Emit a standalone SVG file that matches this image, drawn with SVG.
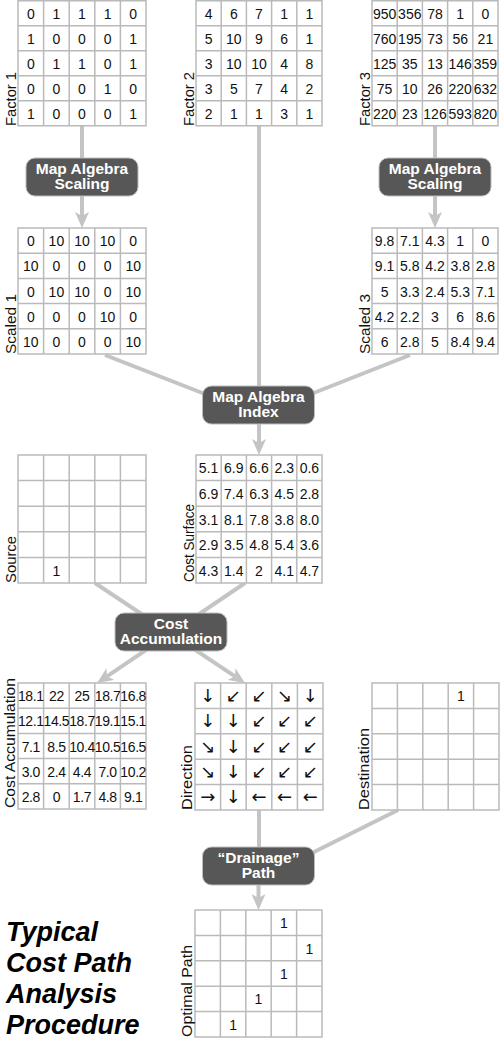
<svg xmlns="http://www.w3.org/2000/svg" width="500" height="1044" viewBox="0 0 500 1044">
<style>
.grid{fill:#fff;stroke:#bababa;stroke-width:1.5}
.c{font-family:"Liberation Sans",Arial,sans-serif;font-size:14px;fill:#111;text-anchor:middle}
.ar{font-family:"DejaVu Sans",sans-serif;font-size:18px;fill:#111;text-anchor:middle}
.lab{font-family:"Liberation Sans",Arial,sans-serif;font-size:15px;fill:#111}
.con{stroke:#c4c4c4;stroke-width:4;fill:none}
.box{fill:#575757;stroke:#bdbdbd;stroke-width:1}
.bt{font-family:"Liberation Sans",Arial,sans-serif;font-size:15.5px;font-weight:bold;fill:#fff;text-anchor:middle}
.title{font-family:"Liberation Sans",Arial,sans-serif;font-size:27px;font-weight:bold;font-style:italic;fill:#000}
</style>
<defs>
<marker id="ah" viewBox="0 0 16 14" refX="4" refY="7" markerWidth="16" markerHeight="14" markerUnits="userSpaceOnUse" orient="auto"><path d="M0,0 L16,7 L0,14 L4,7 z" fill="#c4c4c4"/></marker>
</defs>
<rect width="500" height="1044" fill="#fff"/>

<g id="connectors">
<line class="con" x1="82" y1="125" x2="82" y2="159"/>
<line class="con" x1="82" y1="196" x2="82" y2="216" marker-end="url(#ah)"/>
<line class="con" x1="435" y1="125" x2="435" y2="159"/>
<line class="con" x1="435" y1="196" x2="435" y2="216" marker-end="url(#ah)"/>
<line class="con" x1="259" y1="125" x2="259" y2="390"/>
<line class="con" x1="105" y1="355" x2="210" y2="396"/>
<line class="con" x1="410" y1="355" x2="306" y2="396"/>
<line class="con" x1="259" y1="423" x2="259" y2="443" marker-end="url(#ah)"/>
<line class="con" x1="95" y1="583" x2="235" y2="676.3" marker-end="url(#ah)"/>
<line class="con" x1="245" y1="583" x2="107" y2="676.3" marker-end="url(#ah)"/>
<line class="con" x1="259" y1="809" x2="259" y2="850"/>
<line class="con" x1="398" y1="810" x2="308" y2="855"/>
<line class="con" x1="258.5" y1="885" x2="258.5" y2="898" marker-end="url(#ah)"/>
</g>

<g id="factor1">
<path class="grid" d="M18 0.75H146V125.75H18Z M43.6 0.75V125.75 M69.2 0.75V125.75 M94.8 0.75V125.75 M120.4 0.75V125.75 M18 25.75H146 M18 50.75H146 M18 75.75H146 M18 100.75H146"/>
<text class="c" y="18.75"><tspan x="30.8">0</tspan><tspan x="56.4">1</tspan><tspan x="82">1</tspan><tspan x="107.6">1</tspan><tspan x="133.2">0</tspan></text>
<text class="c" y="43.75"><tspan x="30.8">1</tspan><tspan x="56.4">0</tspan><tspan x="82">0</tspan><tspan x="107.6">0</tspan><tspan x="133.2">1</tspan></text>
<text class="c" y="68.75"><tspan x="30.8">0</tspan><tspan x="56.4">1</tspan><tspan x="82">1</tspan><tspan x="107.6">0</tspan><tspan x="133.2">1</tspan></text>
<text class="c" y="93.75"><tspan x="30.8">0</tspan><tspan x="56.4">0</tspan><tspan x="82">0</tspan><tspan x="107.6">1</tspan><tspan x="133.2">0</tspan></text>
<text class="c" y="118.75"><tspan x="30.8">1</tspan><tspan x="56.4">0</tspan><tspan x="82">0</tspan><tspan x="107.6">0</tspan><tspan x="133.2">1</tspan></text>
<text class="lab" transform="translate(16,126) rotate(-90)" textLength="54" lengthAdjust="spacingAndGlyphs">Factor 1</text>
</g>

<g id="factor2">
<path class="grid" d="M196 0.75H322V125.75H196Z M221.2 0.75V125.75 M246.4 0.75V125.75 M271.6 0.75V125.75 M296.8 0.75V125.75 M196 25.75H322 M196 50.75H322 M196 75.75H322 M196 100.75H322"/>
<text class="c" y="18.75"><tspan x="208.6">4</tspan><tspan x="233.8">6</tspan><tspan x="259">7</tspan><tspan x="284.2">1</tspan><tspan x="309.4">1</tspan></text>
<text class="c" y="43.75"><tspan x="208.6">5</tspan><tspan x="233.8">10</tspan><tspan x="259">9</tspan><tspan x="284.2">6</tspan><tspan x="309.4">1</tspan></text>
<text class="c" y="68.75"><tspan x="208.6">3</tspan><tspan x="233.8">10</tspan><tspan x="259">10</tspan><tspan x="284.2">4</tspan><tspan x="309.4">8</tspan></text>
<text class="c" y="93.75"><tspan x="208.6">3</tspan><tspan x="233.8">5</tspan><tspan x="259">7</tspan><tspan x="284.2">4</tspan><tspan x="309.4">2</tspan></text>
<text class="c" y="118.75"><tspan x="208.6">2</tspan><tspan x="233.8">1</tspan><tspan x="259">1</tspan><tspan x="284.2">3</tspan><tspan x="309.4">1</tspan></text>
<text class="lab" transform="translate(194,126) rotate(-90)" textLength="54" lengthAdjust="spacingAndGlyphs">Factor 2</text>
</g>

<g id="factor3">
<path class="grid" d="M372 0.75H498V125.75H372Z M397.2 0.75V125.75 M422.4 0.75V125.75 M447.6 0.75V125.75 M472.8 0.75V125.75 M372 25.75H498 M372 50.75H498 M372 75.75H498 M372 100.75H498"/>
<text class="c" y="18.75"><tspan x="384.6">950</tspan><tspan x="409.8">356</tspan><tspan x="435">78</tspan><tspan x="460.2">1</tspan><tspan x="485.4">0</tspan></text>
<text class="c" y="43.75"><tspan x="384.6">760</tspan><tspan x="409.8">195</tspan><tspan x="435">73</tspan><tspan x="460.2">56</tspan><tspan x="485.4">21</tspan></text>
<text class="c" y="68.75"><tspan x="384.6">125</tspan><tspan x="409.8">35</tspan><tspan x="435">13</tspan><tspan x="460.2">146</tspan><tspan x="485.4">359</tspan></text>
<text class="c" y="93.75"><tspan x="384.6">75</tspan><tspan x="409.8">10</tspan><tspan x="435">26</tspan><tspan x="460.2">220</tspan><tspan x="485.4">632</tspan></text>
<text class="c" y="118.75"><tspan x="384.6">220</tspan><tspan x="409.8">23</tspan><tspan x="435">126</tspan><tspan x="460.2">593</tspan><tspan x="485.4">820</tspan></text>
<text class="lab" transform="translate(370,126) rotate(-90)" textLength="54" lengthAdjust="spacingAndGlyphs">Factor 3</text>
</g>

<g id="scaling1">
<rect class="box" x="26" y="158" width="112" height="38" rx="9"/>
<text class="bt" x="82" y="174">Map Algebra</text>
<text class="bt" x="82" y="189">Scaling</text>
</g>

<g id="scaling3">
<rect class="box" x="379" y="158" width="112" height="38" rx="9"/>
<text class="bt" x="435" y="174">Map Algebra</text>
<text class="bt" x="435" y="189">Scaling</text>
</g>

<g id="scaled1">
<path class="grid" d="M18 228H146V354H18Z M43.6 228V354 M69.2 228V354 M94.8 228V354 M120.4 228V354 M18 253.2H146 M18 278.4H146 M18 303.6H146 M18 328.8H146"/>
<text class="c" y="246.1"><tspan x="30.8">0</tspan><tspan x="56.4">10</tspan><tspan x="82">10</tspan><tspan x="107.6">10</tspan><tspan x="133.2">0</tspan></text>
<text class="c" y="271.3"><tspan x="30.8">10</tspan><tspan x="56.4">0</tspan><tspan x="82">0</tspan><tspan x="107.6">0</tspan><tspan x="133.2">10</tspan></text>
<text class="c" y="296.5"><tspan x="30.8">0</tspan><tspan x="56.4">10</tspan><tspan x="82">10</tspan><tspan x="107.6">0</tspan><tspan x="133.2">10</tspan></text>
<text class="c" y="321.7"><tspan x="30.8">0</tspan><tspan x="56.4">0</tspan><tspan x="82">0</tspan><tspan x="107.6">10</tspan><tspan x="133.2">0</tspan></text>
<text class="c" y="346.9"><tspan x="30.8">10</tspan><tspan x="56.4">0</tspan><tspan x="82">0</tspan><tspan x="107.6">0</tspan><tspan x="133.2">10</tspan></text>
<text class="lab" transform="translate(16,354) rotate(-90)" textLength="60" lengthAdjust="spacingAndGlyphs">Scaled 1</text>
</g>

<g id="scaled3">
<path class="grid" d="M372 228H498V354H372Z M397.2 228V354 M422.4 228V354 M447.6 228V354 M472.8 228V354 M372 253.2H498 M372 278.4H498 M372 303.6H498 M372 328.8H498"/>
<text class="c" y="246.1"><tspan x="384.6">9.8</tspan><tspan x="409.8">7.1</tspan><tspan x="435">4.3</tspan><tspan x="460.2">1</tspan><tspan x="485.4">0</tspan></text>
<text class="c" y="271.3"><tspan x="384.6">9.1</tspan><tspan x="409.8">5.8</tspan><tspan x="435">4.2</tspan><tspan x="460.2">3.8</tspan><tspan x="485.4">2.8</tspan></text>
<text class="c" y="296.5"><tspan x="384.6">5</tspan><tspan x="409.8">3.3</tspan><tspan x="435">2.4</tspan><tspan x="460.2">5.3</tspan><tspan x="485.4">7.1</tspan></text>
<text class="c" y="321.7"><tspan x="384.6">4.2</tspan><tspan x="409.8">2.2</tspan><tspan x="435">3</tspan><tspan x="460.2">6</tspan><tspan x="485.4">8.6</tspan></text>
<text class="c" y="346.9"><tspan x="384.6">6</tspan><tspan x="409.8">2.8</tspan><tspan x="435">5</tspan><tspan x="460.2">8.4</tspan><tspan x="485.4">9.4</tspan></text>
<text class="lab" transform="translate(370,354) rotate(-90)" textLength="60" lengthAdjust="spacingAndGlyphs">Scaled 3</text>
</g>

<g id="index">
<rect class="box" x="202.5" y="386" width="112" height="38" rx="9"/>
<text class="bt" x="258.5" y="402">Map Algebra</text>
<text class="bt" x="258.5" y="417">Index</text>
</g>

<g id="source">
<path class="grid" d="M18 455H146V583H18Z M43.6 455V583 M69.2 455V583 M94.8 455V583 M120.4 455V583 M18 480.6H146 M18 506.2H146 M18 531.8H146 M18 557.4H146"/>
<text class="c" x="56.4" y="575.7">1</text>
<text class="lab" transform="translate(16,583) rotate(-90)" textLength="47" lengthAdjust="spacingAndGlyphs">Source</text>
</g>

<g id="costsurface">
<path class="grid" d="M196 455H322V583H196Z M221.2 455V583 M246.4 455V583 M271.6 455V583 M296.8 455V583 M196 480.6H322 M196 506.2H322 M196 531.8H322 M196 557.4H322"/>
<text class="c" y="473.3"><tspan x="208.6">5.1</tspan><tspan x="233.8">6.9</tspan><tspan x="259">6.6</tspan><tspan x="284.2">2.3</tspan><tspan x="309.4">0.6</tspan></text>
<text class="c" y="498.9"><tspan x="208.6">6.9</tspan><tspan x="233.8">7.4</tspan><tspan x="259">6.3</tspan><tspan x="284.2">4.5</tspan><tspan x="309.4">2.8</tspan></text>
<text class="c" y="524.5"><tspan x="208.6">3.1</tspan><tspan x="233.8">8.1</tspan><tspan x="259">7.8</tspan><tspan x="284.2">3.8</tspan><tspan x="309.4">8.0</tspan></text>
<text class="c" y="550.1"><tspan x="208.6">2.9</tspan><tspan x="233.8">3.5</tspan><tspan x="259">4.8</tspan><tspan x="284.2">5.4</tspan><tspan x="309.4">3.6</tspan></text>
<text class="c" y="575.7"><tspan x="208.6">4.3</tspan><tspan x="233.8">1.4</tspan><tspan x="259">2</tspan><tspan x="284.2">4.1</tspan><tspan x="309.4">4.7</tspan></text>
<text class="lab" transform="translate(194,582) rotate(-90)" textLength="78" lengthAdjust="spacingAndGlyphs">Cost Surface</text>
</g>

<g id="costaccbox">
<rect class="box" x="115" y="613" width="112" height="38" rx="9"/>
<text class="bt" x="171" y="629">Cost</text>
<text class="bt" x="171" y="644">Accumulation</text>
</g>

<g id="costacc">
<path class="grid" d="M18 683H146V809H18Z M43.6 683V809 M69.2 683V809 M94.8 683V809 M120.4 683V809 M18 708.2H146 M18 733.4H146 M18 758.6H146 M18 783.8H146"/>
<g letter-spacing="-0.4">
<text class="c" y="701.1"><tspan x="30.8">18.1</tspan><tspan x="56.4">22</tspan><tspan x="82">25</tspan><tspan x="107.6">18.7</tspan><tspan x="133.2">16.8</tspan></text>
<text class="c" y="726.3"><tspan x="30.8">12.1</tspan><tspan x="56.4">14.5</tspan><tspan x="82">18.7</tspan><tspan x="107.6">19.1</tspan><tspan x="133.2">15.1</tspan></text>
<text class="c" y="751.5"><tspan x="30.8">7.1</tspan><tspan x="56.4">8.5</tspan><tspan x="82">10.4</tspan><tspan x="107.6">10.5</tspan><tspan x="133.2">16.5</tspan></text>
<text class="c" y="776.7"><tspan x="30.8">3.0</tspan><tspan x="56.4">2.4</tspan><tspan x="82">4.4</tspan><tspan x="107.6">7.0</tspan><tspan x="133.2">10.2</tspan></text>
<text class="c" y="801.9"><tspan x="30.8">2.8</tspan><tspan x="56.4">0</tspan><tspan x="82">1.7</tspan><tspan x="107.6">4.8</tspan><tspan x="133.2">9.1</tspan></text>
</g>
<text class="lab" transform="translate(15,808) rotate(-90)" textLength="130" lengthAdjust="spacingAndGlyphs">Cost Accumulation</text>
</g>

<g id="direction">
<path class="grid" d="M195 683H323V810H195Z M220.6 683V810 M246.2 683V810 M271.8 683V810 M297.4 683V810 M195 708.4H323 M195 733.8H323 M195 759.2H323 M195 784.6H323"/>
<text class="ar" y="701.7"><tspan x="207.8">↓</tspan><tspan x="233.4">↙</tspan><tspan x="259">↙</tspan><tspan x="284.6">↘</tspan><tspan x="310.2">↓</tspan></text>
<text class="ar" y="727.1"><tspan x="207.8">↓</tspan><tspan x="233.4">↓</tspan><tspan x="259">↙</tspan><tspan x="284.6">↙</tspan><tspan x="310.2">↙</tspan></text>
<text class="ar" y="752.5"><tspan x="207.8">↘</tspan><tspan x="233.4">↓</tspan><tspan x="259">↙</tspan><tspan x="284.6">↙</tspan><tspan x="310.2">↙</tspan></text>
<text class="ar" y="777.9"><tspan x="207.8">↘</tspan><tspan x="233.4">↓</tspan><tspan x="259">↙</tspan><tspan x="284.6">↙</tspan><tspan x="310.2">↙</tspan></text>
<text class="ar" y="803.3"><tspan x="207.8">→</tspan><tspan x="233.4">↓</tspan><tspan x="259">←</tspan><tspan x="284.6">←</tspan><tspan x="310.2">←</tspan></text>
<text class="lab" transform="translate(192,810) rotate(-90)" textLength="65" lengthAdjust="spacingAndGlyphs">Direction</text>
</g>

<g id="destination">
<path class="grid" d="M372 683H499V810H372Z M397.4 683V810 M422.8 683V810 M448.2 683V810 M473.6 683V810 M372 708.4H499 M372 733.8H499 M372 759.2H499 M372 784.6H499"/>
<text class="c" x="460.9" y="701.2">1</text>
<text class="lab" transform="translate(369,810) rotate(-90)" textLength="82" lengthAdjust="spacingAndGlyphs">Destination</text>
</g>

<g id="drainage">
<rect class="box" x="202.5" y="847" width="112" height="38" rx="9"/>
<text class="bt" x="258.5" y="863">“Drainage”</text>
<text class="bt" x="258.5" y="878">Path</text>
</g>

<g id="optimal">
<path class="grid" d="M195 910H322V1037H195Z M220.4 910V1037 M245.8 910V1037 M271.2 910V1037 M296.6 910V1037 M195 935.4H322 M195 960.8H322 M195 986.2H322 M195 1011.6H322"/>
<text class="c" x="283.9" y="928.2">1</text>
<text class="c" x="309.3" y="953.6">1</text>
<text class="c" x="283.9" y="979">1</text>
<text class="c" x="258.5" y="1004.4">1</text>
<text class="c" x="233.1" y="1029.8">1</text>
<text class="lab" transform="translate(192,1037) rotate(-90)" textLength="92" lengthAdjust="spacingAndGlyphs">Optimal Path</text>
</g>

<g id="title">
<text class="title" x="6" y="941">Typical</text>
<text class="title" x="6" y="972">Cost Path</text>
<text class="title" x="6" y="1003">Analysis</text>
<text class="title" x="6" y="1034">Procedure</text>
</g>
</svg>
